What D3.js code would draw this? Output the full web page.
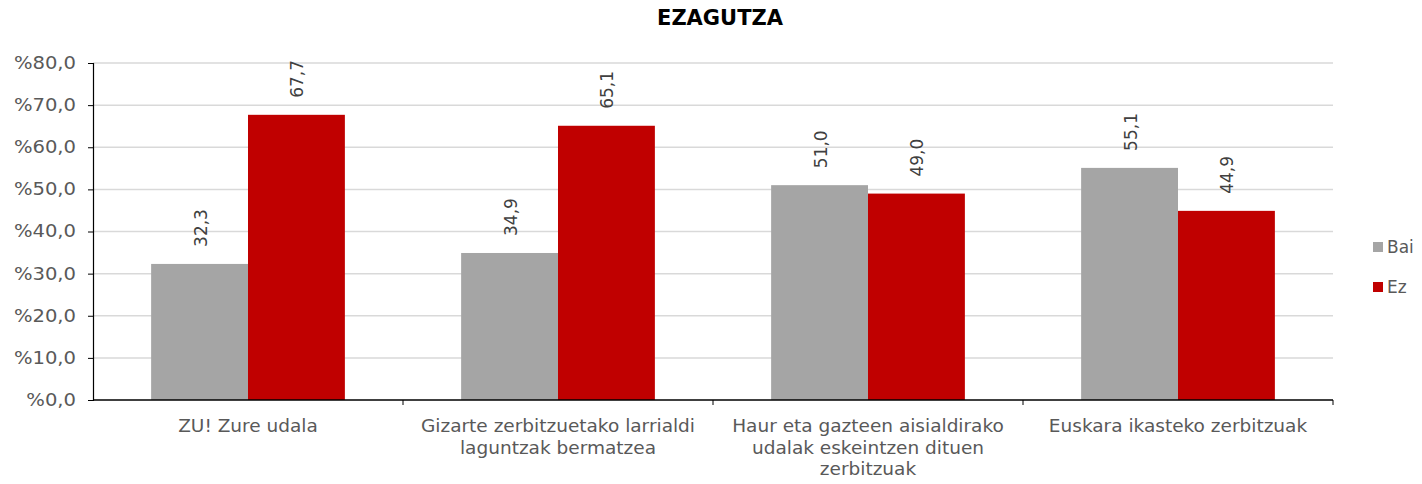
<!DOCTYPE html>
<html>
<head>
<meta charset="utf-8">
<script src="https://cdn.jsdelivr.net/npm/d3@7"></script>
<style>
body { margin: 0; background: #fff; }
text { font-family: "DejaVu Sans", Verdana, sans-serif; }
</style>
</head>
<body>
<svg id="chart" width="1422" height="484"></svg>
<script>
// data
var categories = [
  ["ZU! Zure udala"],
  ["Gizarte zerbitzuetako larrialdi", "laguntzak bermatzea"],
  ["Haur eta gazteen aisialdirako", "udalak eskeintzen dituen", "zerbitzuak"],
  ["Euskara ikasteko zerbitzuak"]
];
var seriesNames = ["Bai", "Ez"];
var baiValues = [32.3, 34.9, 51.0, 55.1];
var ezValues = [67.7, 65.1, 49.0, 44.9];
var yTicks = [0, 10, 20, 30, 40, 50, 60, 70, 80];
var colors = ["#a5a5a5", "#c00000"];

var svg = d3.select("#chart");
var mLeft = 93, mRight = 1333, mTop = 63, mBottom = 400;

var x0 = d3.scaleBand().domain(d3.range(categories.length)).range([mLeft, mRight]).paddingInner(0).paddingOuter(0);
var x1 = d3.scaleBand().domain(seriesNames).range([0, x0.bandwidth()]).paddingInner(0).paddingOuter(0.6);
var y = d3.scaleLinear().domain([0, 80]).range([mBottom, mTop]);

var fmt = function(v) { return d3.format(".1f")(v).replace(".", ","); };

// title
svg.append("text")
  .attr("x", 720).attr("y", 25)
  .attr("text-anchor", "middle")
  .attr("font-size", "21px").attr("font-weight", "bold")
  .attr("fill", "#000")
  .text("EZAGUTZA");

// gridlines
svg.append("g").selectAll("line")
  .data(yTicks.slice(1))
  .enter().append("line")
  .attr("x1", mLeft).attr("x2", mRight)
  .attr("y1", function(d) { return y(d); }).attr("y2", function(d) { return y(d); })
  .attr("stroke", "#d9d9d9").attr("stroke-width", 1.5);

// y axis
var yAxis = d3.axisLeft(y).tickValues(yTicks).tickSize(5).tickPadding(12)
  .tickFormat(function(d) { return "%" + fmt(d); });
var gy = svg.append("g").attr("transform", "translate(" + mLeft + ",0)").call(yAxis);
gy.select(".domain").attr("stroke", "#000").attr("stroke-width", 1.2);
gy.selectAll(".tick line").attr("stroke", "#000");
gy.selectAll("text").attr("font-size", "17px").attr("fill", "#595959")
  .style("font-family", "'DejaVu Sans', Verdana, sans-serif")
  .each(function() {
    // verdana-like width: the percent sign is wider there
    var w = this.getComputedTextLength();
    d3.select(this).attr("textLength", w * 1.15).attr("lengthAdjust", "spacingAndGlyphs");
  });

// bars
var rows = categories.map(function(c, i) { return [baiValues[i], ezValues[i]]; });
var groups = svg.append("g").selectAll("g")
  .data(rows).enter().append("g")
  .attr("transform", function(d, i) { return "translate(" + x0(i) + ",0)"; });

groups.selectAll("rect")
  .data(function(d) { return d.map(function(v, j) { return { key: seriesNames[j], value: v, j: j }; }); })
  .enter().append("rect")
  .attr("x", function(d) { return x1(d.key); })
  .attr("y", function(d) { return y(d.value); })
  .attr("width", x1.bandwidth())
  .attr("height", function(d) { return mBottom - y(d.value); })
  .attr("fill", function(d) { return colors[d.j]; });

groups.selectAll("text.lbl")
  .data(function(d) { return d.map(function(v, j) { return { key: seriesNames[j], value: v }; }); })
  .enter().append("text")
  .attr("class", "lbl")
  .attr("transform", function(d) {
    var cx = x1(d.key) + x1.bandwidth() / 2 + 7;
    return "translate(" + cx + "," + (y(d.value) - 17) + ") rotate(-90)";
  })
  .attr("text-anchor", "start")
  .attr("font-size", "17px").attr("fill", "#404040")
  .text(function(d) { return fmt(d.value); });

// x axis
svg.append("line")
  .attr("x1", mLeft).attr("x2", mRight).attr("y1", mBottom).attr("y2", mBottom)
  .attr("stroke", "#000").attr("stroke-width", 1.5);
svg.append("g").selectAll("line")
  .data(d3.range(categories.length))
  .enter().append("line")
  .attr("x1", function(i) { return x0(i) + x0.bandwidth(); })
  .attr("x2", function(i) { return x0(i) + x0.bandwidth(); })
  .attr("y1", mBottom).attr("y2", mBottom + 5)
  .attr("stroke", "#000");

var catLabels = svg.append("g").selectAll("text")
  .data(categories).enter().append("text")
  .attr("x", function(d, i) { return x0(i) + x0.bandwidth() / 2; })
  .attr("y", 432)
  .attr("font-size", "18.5px").attr("fill", "#595959")
  .attr("text-anchor", "middle");
catLabels.selectAll("tspan")
  .data(function(d) { return d; }).enter().append("tspan")
  .attr("x", function() { return d3.select(this.parentNode).attr("x"); })
  .attr("dy", function(d, i) { return i === 0 ? 0 : 21.7; })
  .text(function(d) { return d; });

// legend
var legend = svg.append("g").selectAll("g")
  .data(seriesNames).enter().append("g")
  .attr("transform", function(d, i) { return "translate(1373," + (242 + i * 40) + ")"; });
legend.append("rect").attr("width", 10).attr("height", 10)
  .attr("fill", function(d, i) { return colors[i]; });
legend.append("text").attr("x", 14).attr("y", 11)
  .attr("font-size", "17px").attr("fill", "#595959")
  .text(function(d) { return d; });
</script>
</body>
</html>
